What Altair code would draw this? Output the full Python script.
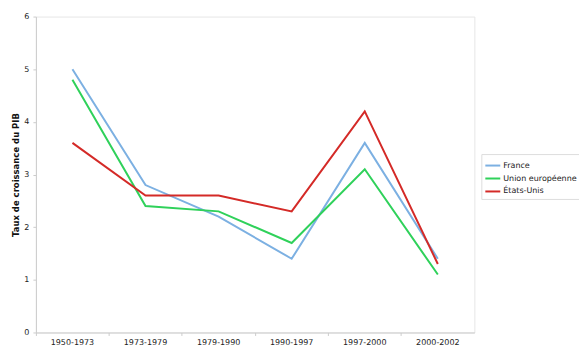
import altair as alt
import pandas as pd

periods = ["1950-1973", "1973-1979", "1979-1990", "1990-1997", "1997-2000", "2000-2002"]
france = [5.0, 2.8, 2.2, 1.4, 3.6, 1.4]
ue = [4.8, 2.4, 2.3, 1.7, 3.1, 1.1]
usa = [3.6, 2.6, 2.6, 2.3, 4.2, 1.3]
series_names = ["France", "Union européenne", "États-Unis"]
series_colors = ["#7cb0e2", "#2fd15a", "#d42a27"]

rows = []
for name, vals in zip(series_names, [france, ue, usa]):
    for p, v in zip(periods, vals):
        rows.append({"Période": p, "Série": name, "Valeur": v})
df = pd.DataFrame(rows)

font = "DejaVu Sans"

chart = alt.Chart(df).mark_line(strokeWidth=2).encode(
    x=alt.X("Période:N", sort=periods, bandPosition=0.5,
            scale=alt.Scale(type="band", paddingInner=0, paddingOuter=0),
            axis=alt.Axis(title=None, labelAngle=0, bandPosition=0, tickSize=3,
                          labelPadding=3, domainColor="#cccccc", tickColor="#cccccc",
                          labelFont=font, labelFontSize=8, labelColor="#222222", grid=False)),
    y=alt.Y("Valeur:Q", scale=alt.Scale(domain=[0, 6], nice=False),
            axis=alt.Axis(title="Taux de croissance du PIB", values=[0, 1, 2, 3, 4, 5, 6],
                          tickSize=3, tickColor="#cccccc", labelPadding=4,
                          domainColor="#cccccc", grid=False,
                          labelFont=font, labelFontSize=8, labelColor="#222222",
                          titleFont=font, titleFontSize=8.5, titleFontWeight="bold",
                          titleColor="#111111", titlePadding=3)),
    color=alt.Color("Série:N", sort=series_names,
                    scale=alt.Scale(domain=series_names, range=series_colors),
                    legend=alt.Legend(title=None, orient="none", legendX=447, legendY=138,
                                      symbolType="stroke", symbolSize=225, symbolStrokeWidth=2,
                                      labelFont=font, labelFontSize=8, labelColor="#222222",
                                      rowPadding=-3, padding=3, strokeColor="#dddddd",
                                      labelOffset=2)),
).properties(
    width=440, height=317,
    autosize=alt.AutoSizeParams(type="none"),
    padding={"left": 28, "top": 8, "right": 105, "bottom": 20},
).configure_view(stroke="#e6e6e6")

chart.save("out.html", embed_options={"renderer": "svg", "actions": False})
